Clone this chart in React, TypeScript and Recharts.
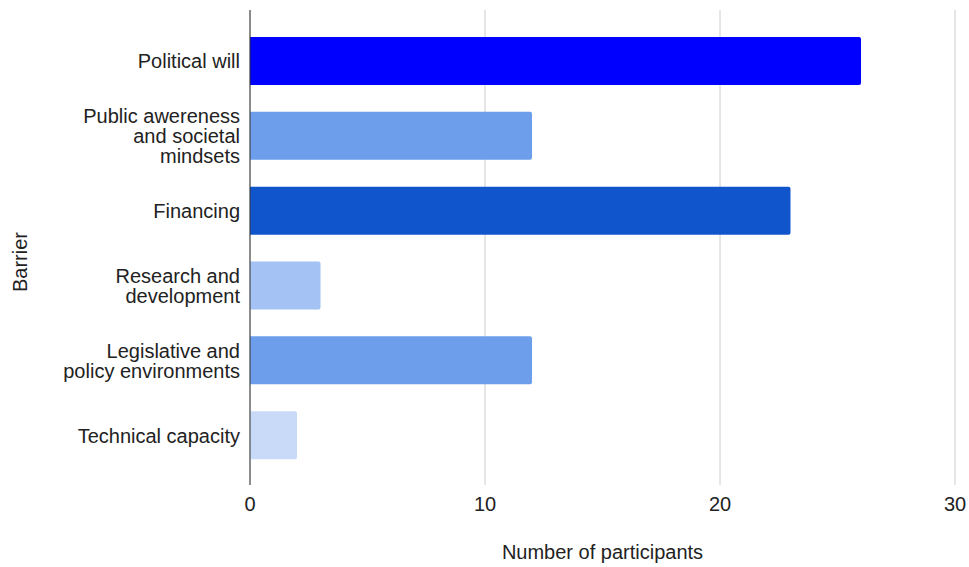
import { Bar, BarChart, CartesianGrid, Cell, Label, XAxis, YAxis } from 'recharts'

const FONT = '"Liberation Sans", Arial, sans-serif'
const TEXT = '#222222'

// barrier categories, one entry per bar (lines split where the label wraps)
const BARRIERS = [
  'Political will',
  'Public awereness\nand societal\nmindsets',
  'Financing',
  'Research and\ndevelopment',
  'Legislative and\npolicy environments',
  'Technical capacity',
]
const PARTICIPANTS = [26, 12, 23, 3, 12, 2]
const COLORS = ['#0000ff', '#6d9eeb', '#1155cc', '#a4c2f4', '#6d9eeb', '#c9daf8']
const X_TICKS = [0, 10, 20, 30]

const data = BARRIERS.map((b, i) => ({ barrier: b, count: PARTICIPANTS[i] }))

function BarrierTick({ x, y, payload }: { x: number; y: number; payload: { value: string } }) {
  const lines = String(payload.value).split('\n')
  const first = -((lines.length - 1) * 20) / 2
  return (
    <text x={x} y={y} textAnchor="end" fill={TEXT} style={{ fontFamily: FONT, fontSize: 20 }}>
      {lines.map((l, i) => (
        <tspan key={i} x={x} y={y + first + i * 20} dy="0.35em">
          {l}
        </tspan>
      ))}
    </text>
  )
}

export default function App() {
  return (
    <div style={{ position: 'fixed', top: 0, left: 0, background: '#fff', width: 969, height: 567, overflow: 'hidden' }}>
      <BarChart
        width={969}
        height={567}
        data={data}
        layout="vertical"
        margin={{ top: 10, right: 14, bottom: 0, left: 0 }}
        barSize={48}
      >
        <CartesianGrid horizontal={false} stroke="#cccccc" />
        <XAxis
          type="number"
          domain={[0, 30]}
          ticks={X_TICKS}
          height={82}
          axisLine={false}
          tickLine={false}
          tickSize={0}
          tickMargin={12}
          tick={{ fill: TEXT, fontSize: 20, fontFamily: FONT }}
        >
          <Label
            content={({ viewBox }: any) => (
              <text
                x={viewBox.x + viewBox.width / 2}
                y={559}
                textAnchor="middle"
                fill={TEXT}
                style={{ fontFamily: FONT, fontSize: 20 }}
              >
                Number of participants
              </text>
            )}
          />
        </XAxis>
        <YAxis
          type="category"
          dataKey="barrier"
          width={250}
          padding={{ top: 14, bottom: 12 }}
          stroke="#333333"
          tickLine={false}
          tickSize={0}
          tickMargin={10}
          interval={0}
          tick={BarrierTick as any}
        >
          <Label
            content={() => (
              <text
                x={20}
                y={262}
                textAnchor="middle"
                dominantBaseline="central"
                transform="rotate(-90, 20, 262)"
                fill={TEXT}
                style={{ fontFamily: FONT, fontSize: 20 }}
              >
                Barrier
              </text>
            )}
          />
        </YAxis>
        <Bar dataKey="count" radius={[0, 2, 2, 0]} isAnimationActive={false}>
          {data.map((d, i) => (
            <Cell key={d.barrier} fill={COLORS[i]} />
          ))}
        </Bar>
      </BarChart>
    </div>
  )
}
